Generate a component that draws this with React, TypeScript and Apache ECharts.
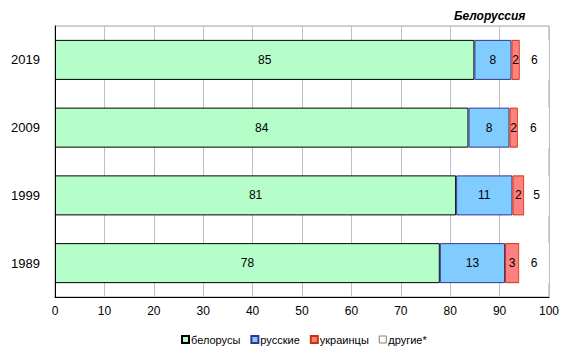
import React, { useEffect, useRef } from "react";
import * as echarts from "echarts";

const years = ["1989", "1999", "2009", "2019"];
const belarusians = [77.9, 81.2, 83.7, 84.9];
const russians = [13.2, 11.4, 8.3, 7.5];
const ukrainians = [2.9, 2.4, 1.7, 1.7];
const others = [6.0, 5.0, 6.3, 5.9];
const xTicks = [0, 10, 20, 30, 40, 50, 60, 70, 80, 90, 100];

export default function App() {
  const ref = useRef<HTMLDivElement>(null);
  useEffect(() => {
    if (!ref.current) return;
    const chart = echarts.init(ref.current, undefined, { renderer: "svg" });
    const font = "Arial, 'Liberation Sans', sans-serif";
    const lbl = {
      show: true,
      position: "inside",
      color: "#000",
      fontSize: 12,
      fontFamily: font,
      formatter: (p: any) => String(Math.round(p.value)),
    };
    const mk = (name: string, data: number[], color: string, border: string, bw: number) => ({
      name,
      type: "bar",
      stack: "t",
      data,
      barWidth: 40,
      itemStyle: { color, borderColor: border, borderWidth: bw },
      label: lbl,
    });
    chart.setOption({
      animation: false,
      title: {
        text: "Белоруссия",
        left: 449,
        top: 5,
        textStyle: { fontSize: 12, fontWeight: "bold", fontStyle: "italic", fontFamily: font, color: "#000" },
      },
      grid: {
        left: 55,
        right: 29,
        top: 26,
        bottom: 58,
        show: true,
        borderColor: "#a0a0a0",
        borderWidth: 1,
      },
      legend: {
        bottom: 5,
        left: 176,
        icon: "rect",
        itemWidth: 7,
        itemHeight: 7,
        itemGap: 10,
        textStyle: { fontSize: 11, fontFamily: font, color: "#000", padding: [0, 0, 0, -3] },
        data: [
          { name: "белорусы" },
          { name: "русские" },
          { name: "украинцы" },
          { name: "другие*", itemStyle: { color: "#ffffff", borderColor: "#808080", borderWidth: 1 } },
        ],
      },
      xAxis: {
        type: "value",
        min: 0,
        max: 100,
        interval: 10,
        axisLine: { show: true, lineStyle: { color: "#000" } },
        axisTick: { show: false },
        splitLine: { show: true, lineStyle: { color: "#c0c0c0" } },
        axisLabel: {
          fontSize: 12,
          fontFamily: font,
          color: "#000",
          margin: 8,
          formatter: (v: number) => (xTicks.includes(v) ? String(v) : ""),
        },
      },
      yAxis: {
        type: "category",
        data: years,
        axisLine: { show: true, lineStyle: { color: "#000" } },
        axisTick: { show: false },
        axisLabel: { fontSize: 13, fontFamily: font, color: "#000", margin: 15 },
      },
      series: [
        mk("белорусы", belarusians, "#b5fdc9", "#000000", 1),
        mk("русские", russians, "#80ccff", "#333399", 1),
        mk("украинцы", ukrainians, "#ff8080", "#cc3300", 1),
        mk("другие*", others, "#ffffff", "#909090", 0),
      ],
    });
    return () => chart.dispose();
  }, []);
  return <div ref={ref} style={{ width: 578, height: 355, position: "absolute", left: 0, top: 0 }} />;
}
